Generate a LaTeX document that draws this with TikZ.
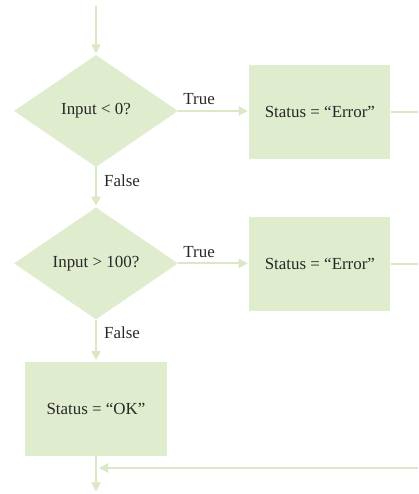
\documentclass[tikz,border=0pt]{standalone}
\usepackage{fontspec}
\setmainfont{Liberation Serif}
\usetikzlibrary{positioning,arrows.meta,shapes.geometric,calc}
\definecolor{flowfill}{RGB}{224,236,206}
\definecolor{flowline}{RGB}{218,232,198}
\definecolor{flowtext}{RGB}{40,40,40}
\tikzset{
decision/.style={
diamond,
fill=flowfill,
inner sep=0pt,
minimum width=164bp,
minimum height=112bp,
align=center,
text=flowtext,
font=\fontsize{17}{20}\selectfont
},
process/.style={
rectangle,
fill=flowfill,
minimum width=141bp,
minimum height=94bp,
align=center,
text=flowtext,
font=\fontsize{17}{20}\selectfont
},
branch/.style={
inner sep=0pt,
anchor=base west,
text=flowtext,
font=\fontsize{17}{20}\selectfont
},
link/.style={
draw=flowline,
line width=2bp
},
arrow/.style={
link,
-{Triangle[length=9bp,width=9bp]},
shorten >=1.5bp
}
}
\begin{document}
\begin{tikzpicture}[x=1bp,y=1bp,node distance=40bp]
\useasboundingbox (0,0) rectangle (418,494);
\node[decision](lt) at (96,383){Input < 0?};
\node[process,right=71bp of lt,yshift=-1bp](err1){Status = “Error”};
\node[decision,below=40bp of lt](gt){Input > 100?};
\node[process,right=71bp of gt,yshift=-1bp](err2){Status = “Error”};
\node[process,below=42bp of gt](ok){Status = “OK”};
\node[branch](t1) at ($(lt.east)+(5bp,6bp)$){True};
\node[branch](f1) at ($(lt.south)+(8bp,-19bp)$){False};
\node[branch](t2) at ($(gt.east)+(5bp,6bp)$){True};
\node[branch](f2) at ($(gt.south)+(8bp,-19bp)$){False};
\coordinate(start) at (96,488);
\coordinate(stop) at (96,1);
\coordinate(rim) at (418,26);

\draw[arrow](start)--(lt);
\draw[arrow](lt)--(lt -| err1.west);
\draw[arrow](lt)--(gt);
\draw[arrow](gt)--(gt -| err2.west);
\draw[arrow](gt)--(ok);
\draw[arrow](ok)--(stop);
\draw[link](err1.east)--(err1.east -| rim);
\draw[link](err2.east)--(err2.east -| rim);
\draw[arrow,shorten >=3bp](rim)--(rim -| ok.south);
\end{tikzpicture}
\end{document}
